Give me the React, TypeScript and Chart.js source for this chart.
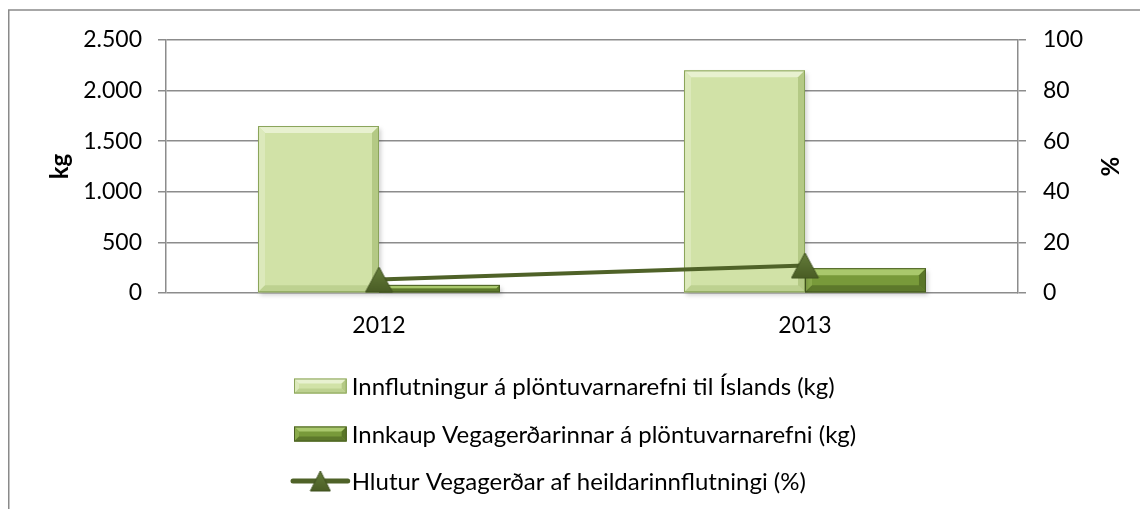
import React, { useEffect, useRef } from 'react';
import { Chart, registerables } from 'chart.js';

Chart.register(...registerables);

const categories = ['2012', '2013'];
const importKg = [1650, 2200];
const roadAuthorityKg = [80, 245];
const roadAuthoritySharePct = [5.3, 10.9];
const seriesLabels = [
  'Innflutningur á plöntuvarnarefni til Íslands (kg)',
  'Innkaup Vegagerðarinnar á plöntuvarnarefni (kg)',
  'Hlutur Vegagerðar af heildarinnflutningi (%)',
];
const axisTitles = ['kg', '%'];

const FONT = 'Lato, "Open Sans", sans-serif';
const GRID = '#8c8c8c';
const LINE_COLOR = '#4f6228';

const PALETTES = [
  { main: '#d1e2a7', top: '#e8f1d0', left: '#dce9bb', right: '#b4c985', bottom: '#bdd190', edge: '#8aa45a' },
  { main: '#789a3a', top: '#a9c86c', left: '#8aab4b', right: '#5a7628', bottom: '#5d792b', edge: '#4a5e24' },
];

function drawBevelRect(ctx: CanvasRenderingContext2D, x0: number, y0: number, x1: number, y1: number, pal: any, bev: number) {
  const w = x1 - x0;
  const h = y1 - y0;
  if (w <= 0 || h <= 0) return;
  const b = Math.min(bev, h / 2, w / 2);
  ctx.save();
  ctx.fillStyle = pal.main;
  ctx.fillRect(x0, y0, w, h);
  const poly = (pts: number[][], color: string) => {
    ctx.beginPath();
    ctx.moveTo(pts[0][0], pts[0][1]);
    for (let i = 1; i < pts.length; i++) ctx.lineTo(pts[i][0], pts[i][1]);
    ctx.closePath();
    ctx.fillStyle = color;
    ctx.fill();
  };
  poly([[x0, y0], [x1, y0], [x1 - b, y0 + b], [x0 + b, y0 + b]], pal.top);
  poly([[x0, y0], [x0 + b, y0 + b], [x0 + b, y1 - b], [x0, y1]], pal.left);
  poly([[x1, y0], [x1, y1], [x1 - b, y1 - b], [x1 - b, y0 + b]], pal.right);
  poly([[x0, y1], [x1, y1], [x1 - b, y1 - b], [x0 + b, y1 - b]], pal.bottom);
  ctx.strokeStyle = pal.edge;
  ctx.lineWidth = 1;
  ctx.strokeRect(x0 + 0.5, y0 + 0.5, w - 1, h - 1);
  ctx.restore();
}

function makeTriangle(w: number, h: number): HTMLCanvasElement {
  const c = document.createElement('canvas');
  c.width = w + 2;
  c.height = h + 2;
  const ctx = c.getContext('2d')!;
  const grad = ctx.createLinearGradient(0, 1, 0, h + 1);
  grad.addColorStop(0, '#647c3a');
  grad.addColorStop(1, '#4a5d25');
  ctx.beginPath();
  ctx.moveTo(1 + w / 2, 1);
  ctx.lineTo(1 + w, 1 + h);
  ctx.lineTo(1, 1 + h);
  ctx.closePath();
  ctx.fillStyle = grad;
  ctx.fill();
  ctx.strokeStyle = '#3f501f';
  ctx.lineWidth = 1;
  ctx.stroke();
  return c;
}

const fmtThousands = (v: number) => String(v).replace(/\B(?=(\d{3})+(?!\d))/g, '.');

export default function App() {
  const ref = useRef<HTMLCanvasElement>(null);

  useEffect(() => {
    document.body.style.overflow = 'hidden';
    document.documentElement.style.overflow = 'hidden';
    const canvas = ref.current!;
    const chartTri = makeTriangle(27, 25);
    const legendTri = makeTriangle(20, 20);

    const framePlugin = {
      id: 'frame',
      beforeDraw(chart: any) {
        const ctx = chart.ctx;
        ctx.save();
        ctx.strokeStyle = '#8a8a8a';
        ctx.lineWidth = 1.5;
        ctx.beginPath();
        ctx.moveTo(0.75, chart.height);
        ctx.lineTo(0.75, 2);
        ctx.lineTo(chart.width, 2);
        ctx.stroke();
        ctx.restore();
      },
    };

    const bevelPlugin = {
      id: 'bevel',
      afterDatasetDraw(chart: any, args: any) {
        const meta = args.meta;
        if (meta.type !== 'bar') return;
        const pal = PALETTES[args.index];
        const ctx = chart.ctx;
        meta.data.forEach((el: any) => {
          const { x, y, base, width } = el.getProps(['x', 'y', 'base', 'width'], true);
          const x0 = x - width / 2;
          const x1 = x + width / 2;
          const top = Math.min(y, base);
          const bot = Math.max(y, base);
          ctx.save();
          ctx.fillStyle = 'rgba(0,0,0,0.18)';
          ctx.filter = 'blur(2px)';
          ctx.fillRect(x0 + 2, top + 3, width, bot - top);
          ctx.restore();
          drawBevelRect(ctx, x0, top, x1, bot, pal, 7);
        });
      },
    };

    const legendPlugin = {
      id: 'customLegend',
      afterDraw(chart: any) {
        const ctx = chart.ctx;
        const rows = [378, 426, 473];
        const boxX0 = 286;
        const boxX1 = 338.7;
        const textX = 343.7;
        ctx.save();
        ctx.font = `24px ${FONT}`;
        ctx.fillStyle = '#000';
        ctx.textBaseline = 'middle';
        ctx.textAlign = 'left';
        chart.data.datasets.forEach((ds: any, i: number) => {
          const cy = rows[i];
          if (i < 2) {
            drawBevelRect(ctx, boxX0, cy - 7.5, boxX1, cy + 7.5, PALETTES[i], 5);
          } else {
            ctx.save();
            ctx.strokeStyle = LINE_COLOR;
            ctx.lineWidth = 5;
            ctx.lineCap = 'round';
            ctx.beginPath();
            ctx.moveTo(boxX0 - 1, cy);
            ctx.lineTo(boxX1 + 1, cy);
            ctx.stroke();
            ctx.drawImage(legendTri, (boxX0 + boxX1) / 2 - legendTri.width / 2, cy - legendTri.height / 2);
            ctx.restore();
          }
          ctx.fillStyle = '#000';
          ctx.fillText(ds.label, textX, cy + 1);
        });
        ctx.restore();
      },
    };

    const chart = new Chart(canvas, {
      type: 'bar',
      data: {
        labels: categories,
        datasets: [
          {
            type: 'bar',
            label: seriesLabels[0],
            data: importKg,
            yAxisID: 'y',
            backgroundColor: PALETTES[0].main,
            borderWidth: 0,
            categoryPercentage: 0.568,
            barPercentage: 1,
            order: 2,
          },
          {
            type: 'bar',
            label: seriesLabels[1],
            data: roadAuthorityKg,
            yAxisID: 'y',
            backgroundColor: PALETTES[1].main,
            borderWidth: 0,
            categoryPercentage: 0.568,
            barPercentage: 1,
            order: 2,
          },
          {
            type: 'line',
            label: seriesLabels[2],
            data: roadAuthoritySharePct,
            yAxisID: 'y1',
            borderColor: LINE_COLOR,
            borderWidth: 4,
            pointStyle: chartTri as any,
            pointRadius: 13,
            backgroundColor: LINE_COLOR,
            order: 0,
          } as any,
        ],
      },
      options: {
        responsive: false,
        animation: false,
        devicePixelRatio: 1,
        layout: { padding: { left: 38, right: 25, top: 32, bottom: 0 } },
        plugins: {
          legend: { display: false },
          tooltip: { enabled: false },
        },
        scales: {
          x: {
            type: 'category',
            grid: { display: false, drawTicks: false },
            border: { display: false },
            ticks: { color: '#000', font: { family: FONT, size: 23 }, padding: 19 },
            afterFit(scale: any) {
              scale.height = 216;
            },
          },
          y: {
            position: 'left',
            min: 0,
            max: 2500,
            ticks: {
              stepSize: 500,
              color: '#000',
              font: { family: FONT, size: 23 },
              padding: 16,
              callback: (v: any) => fmtThousands(Number(v)),
            },
            grid: { color: GRID, lineWidth: 1.5, tickLength: 8, drawTicks: true },
            border: { display: true, color: GRID, width: 1.5 },
            title: {
              display: true,
              text: axisTitles[0],
              color: '#000',
              font: { family: FONT, size: 24, weight: 'bold' },
              padding: 0,
            },
            afterFit(scale: any) {
              scale.width = 120;
            },
          },
          y1: {
            position: 'right',
            min: 0,
            max: 100,
            ticks: {
              stepSize: 20,
              color: '#000',
              font: { family: FONT, size: 23 },
              padding: 17,
            },
            grid: { color: GRID, lineWidth: 1.5, tickLength: 8, drawTicks: true, drawOnChartArea: false },
            border: { display: true, color: GRID, width: 1.5 },
            title: {
              display: true,
              text: axisTitles[1],
              color: '#000',
              font: { family: FONT, size: 24, weight: 'bold' },
              padding: 0,
            },
            afterFit(scale: any) {
              scale.width = 105;
            },
          },
        },
      } as any,
      plugins: [framePlugin, bevelPlugin, legendPlugin],
    });

    return () => chart.destroy();
  }, []);

  return (
    <div style={{ width: 1140, height: 501 }}>
      <canvas ref={ref} width={1140} height={501} style={{ display: 'block', width: 1140, height: 501 }} />
    </div>
  );
}
